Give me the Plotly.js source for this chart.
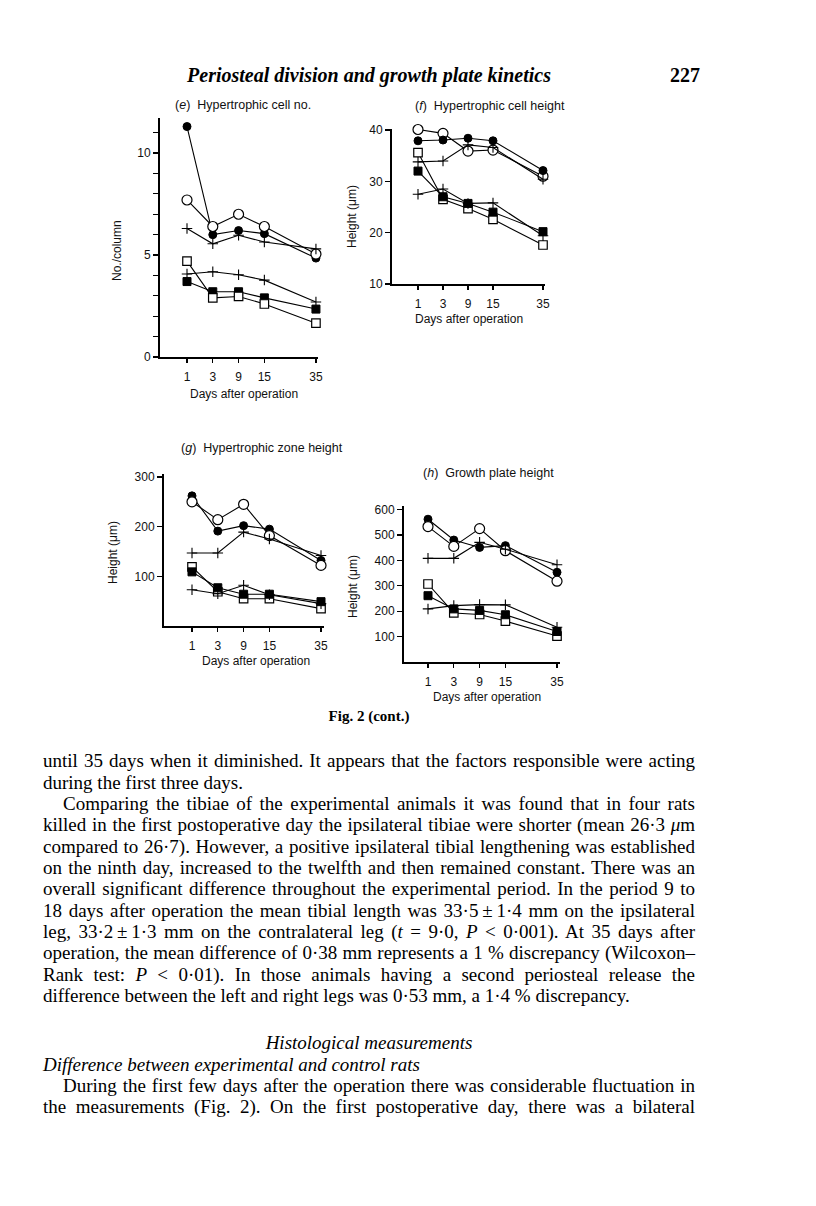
<!DOCTYPE html>
<html>
<head>
<meta charset="utf-8">
<script src="https://cdn.plot.ly/plotly-3.0.1.min.js"></script>
<style>
html,body{margin:0;padding:0;background:#fff;}
#page{position:relative;width:816px;height:1206px;overflow:hidden;background:#fff;}
#chart{position:absolute;left:0;top:0;width:816px;height:730px;}
.t{position:absolute;left:43px;width:652px;font-family:"Liberation Serif","Times New Roman",serif;font-size:19px;line-height:22px;color:#000;}
.j{text-align:justify;text-align-last:justify;}
.l{text-align:left;}
.c{text-align:center;}
.in{padding-left:20px;box-sizing:border-box;}
.hdr{position:absolute;font-family:"Liberation Serif","Times New Roman",serif;color:#000;font-weight:bold;}
</style>
</head>
<body>
<div id="page">
  <div id="chart"></div>
  <div class="hdr" style="left:0;width:738px;top:64px;font-size:20px;font-style:italic;text-align:center;">Periosteal division and growth plate kinetics</div>
  <div class="hdr" style="left:660px;width:40px;top:64px;font-size:20px;text-align:right;">227</div>
  <div class="hdr" style="left:43px;width:652px;top:708px;font-size:15px;text-align:center;">Fig. 2 (cont.)</div>
  <div id="body"></div>
</div>
<script>
// ---- data ----
const days = [1, 3, 9, 15, 35];
const dayLabels = ['1', '3', '9', '15', '35'];

// (e) Hypertrophic cell no. (No./column)
const eFilledCircle = [11.3, 6.0, 6.2, 6.05, 4.85];
const eOpenCircle   = [7.7, 6.4, 7.0, 6.4, 5.05];
const ePlusUpper    = [6.3, 5.55, 5.97, 5.64, 5.3];
const ePlusLower    = [4.07, 4.18, 4.03, 3.77, 2.7];
const eFilledSquare = [3.7, 3.2, 3.2, 2.9, 2.35];
const eOpenSquare   = [4.7, 2.9, 2.97, 2.6, 1.66];

// (f) Hypertrophic cell height (µm)
const fOpenCircle   = [40.1, 39.35, 35.9, 36.1, 31.0];
const fFilledCircle = [37.9, 38.05, 38.4, 37.9, 32.1];
const fPlusUpper    = [33.8, 33.96, 37.1, 36.6, 30.4];
const fOpenSquare   = [35.6, 26.5, 24.7, 22.6, 17.6];
const fFilledSquare = [32.0, 27.0, 25.7, 24.0, 20.2];
const fPlusLower    = [27.5, 28.5, 25.7, 25.8, 19.4];

// (g) Hypertrophic zone height (µm)
const gFilledCircle = [262, 191, 202, 195, 132];
const gOpenCircle   = [250, 214, 245, 182, 122];
const gPlusUpper    = [147, 147, 189, 175, 142];
const gOpenSquare   = [119, 69, 55, 55, 35];
const gFilledSquare = [109, 77, 64, 64, 49];
const gPlusLower    = [73, 65, 82, 63, 45];

// (h) Growth plate height (µm)
const hFilledCircle = [562, 480, 451, 458, 353];
const hOpenCircle   = [533, 455, 525, 438, 318];
const hPlusUpper    = [408, 408, 471, 444, 383];
const hOpenSquare   = [307, 193, 187, 161, 102];
const hFilledSquare = [261, 209, 203, 186, 120];
const hPlusLower    = [209, 222, 226, 225, 137];

const eYTicks = [0, 5, 10];
const fYTicks = [10, 20, 30, 40];
const gYTicks = [100, 200, 300];
const hYTicks = [100, 200, 300, 400, 500, 600];

const panelTitles = ['(<i>e</i>)  Hypertrophic cell no.', '(<i>f</i>)  Hypertrophic cell height',
                     '(<i>g</i>)  Hypertrophic zone height', '(<i>h</i>)  Growth plate height'];
const yTitles = ['No./column', 'Height (μm)', 'Height (μm)', 'Height (μm)'];
const xTitle = 'Days after operation';

// ---- body text ----
const bodyLines = [
  ['j', 'until 35 days when it diminished. It appears that the factors responsible were acting'],
  ['l', 'during the first three days.'],
  ['j in', 'Comparing the tibiae of the experimental animals it was found that in four rats'],
  ['j', 'killed in the first postoperative day the ipsilateral tibiae were shorter (mean 26·3 <i>μ</i>m'],
  ['j', 'compared to 26·7). However, a positive ipsilateral tibial lengthening was established'],
  ['j', 'on the ninth day, increased to the twelfth and then remained constant. There was an'],
  ['j', 'overall significant difference throughout the experimental period. In the period 9 to'],
  ['j', '18 days after operation the mean tibial length was 33·5\u2009±\u20091·4 mm on the ipsilateral'],
  ['j', 'leg, 33·2\u2009±\u20091·3 mm on the contralateral leg (<i>t</i> = 9·0, <i>P</i> &lt; 0·001). At 35 days after'],
  ['j', 'operation, the mean difference of 0·38 mm represents a 1 % discrepancy (Wilcoxon–'],
  ['j', 'Rank test: <i>P</i> &lt; 0·01). In those animals having a second periosteal release the'],
  ['l', 'difference between the left and right legs was 0·53 mm, a 1·4 % discrepancy.']
];
const sectionHeading = 'Histological measurements';
const subHeading = 'Difference between experimental and control rats';
const bodyLines2 = [
  ['j in', 'During the first few days after the operation there was considerable fluctuation in'],
  ['j', 'the measurements (Fig. 2). On the first postoperative day, there was a bilateral']
];

(function buildText(){
  const body = document.getElementById('body');
  const add = (cls, html, yc) => {
    const d = document.createElement('div');
    d.className = 't ' + cls;
    d.style.top = (yc - 13) + 'px';
    d.innerHTML = html;
    body.appendChild(d);
  };
  bodyLines.forEach((ln, i) => add(ln[0], ln[1], 763.3 + 21.35 * i));
  add('c', '<i>' + sectionHeading + '</i>', 1045);
  add('l', '<i>' + subHeading + '</i>', 1066.7);
  bodyLines2.forEach((ln, i) => add(ln[0], ln[1], 1088 + 21.35 * i));
})();

// ---- chart ----
const W = 816, H = 730;
const slotOf = d => (d === 35 ? 5 : days.indexOf(d));
const xSlots = days.map(slotOf);

const panels = [
  {box: {l: 160, r: 318, t: 118, b: 357}, xr: [-1.047, 5.08], yr: [0, 11.72], yt: eYTicks, minor: 1,
   series: [eFilledCircle, eOpenCircle, ePlusUpper, ePlusLower, eFilledSquare, eOpenSquare],
   kinds: ['fc', 'oc', 'p', 'p', 'fs', 'os'],
   title: {x: 173, y: 105}, ylab: {x: 117, y: 250}, xlab: {x: 244, y: 394}},
  {box: {l: 392, r: 545, t: 129, b: 284}, xr: [-1.04, 5.08], yr: [10, 40.2], yt: fYTicks, minor: 0,
   series: [fOpenCircle, fFilledCircle, fPlusUpper, fOpenSquare, fFilledSquare, fPlusLower],
   kinds: ['oc', 'fc', 'p', 'os', 'fs', 'p'],
   title: {x: 413, y: 106}, ylab: {x: 352, y: 217}, xlab: {x: 469, y: 319}},
  {box: {l: 164, r: 324, t: 474, b: 626}, xr: [-1.085, 5.116], yr: [0, 306], yt: gYTicks, minor: 0,
   series: [gFilledCircle, gOpenCircle, gPlusUpper, gOpenSquare, gFilledSquare, gPlusLower],
   kinds: ['fc', 'oc', 'p', 'os', 'fs', 'p'],
   title: {x: 179, y: 448}, ylab: {x: 113, y: 553}, xlab: {x: 256, y: 661}},
  {box: {l: 404, r: 560, t: 506, b: 662}, xr: [-0.93, 5.116], yr: [0, 614], yt: hYTicks, minor: 0,
   series: [hFilledCircle, hOpenCircle, hPlusUpper, hOpenSquare, hFilledSquare, hPlusLower],
   kinds: ['fc', 'oc', 'p', 'os', 'fs', 'p'],
   title: {x: 421, y: 473}, ylab: {x: 353, y: 587}, xlab: {x: 487, y: 697}}
];

const markerStyles = {
  fc: {symbol: 'circle', size: 8, color: '#000', line: {color: '#000', width: 1}},
  oc: {symbol: 'circle', size: 10, color: '#fff', line: {color: '#000', width: 1.2}},
  p:  {symbol: 'cross-thin', size: 7.5, color: '#000', line: {color: '#000', width: 1.1}},
  fs: {symbol: 'square', size: 8, color: '#000', line: {color: '#000', width: 1}},
  os: {symbol: 'square', size: 8.5, color: '#fff', line: {color: '#000', width: 1.2}}
};
const kindNames = {fc: 'Filled circle', oc: 'Open circle', p: 'Cross', fs: 'Filled square', os: 'Open square'};

const px = x => x / W;
const py = y => 1 - y / H;
const tickFont = {family: 'Liberation Sans, Arial, sans-serif', size: 12, color: '#111'};
const labFont = {family: 'Liberation Sans, Arial, sans-serif', size: 12, color: '#111'};

const traces = [];
const layout = {
  width: W, height: H,
  margin: {l: 0, r: 0, t: 0, b: 0},
  paper_bgcolor: 'rgba(0,0,0,0)', plot_bgcolor: 'rgba(0,0,0,0)',
  showlegend: false,
  annotations: []
};

panels.forEach((p, i) => {
  const n = i === 0 ? '' : String(i + 1);
  const xa = 'x' + n, ya = 'y' + n;
  p.series.forEach((vals, k) => {
    const kind = p.kinds[k];
    traces.push({
      type: 'scatter', mode: 'lines+markers',
      name: kindNames[kind],
      x: xSlots, y: vals,
      xaxis: xa, yaxis: ya,
      line: {color: '#000', width: 1.1},
      marker: markerStyles[kind],
      cliponaxis: false,
      hoverinfo: 'x+y'
    });
  });
  layout['xaxis' + n] = {
    domain: [px(p.box.l), px(p.box.r)], anchor: ya, range: p.xr,
    showline: true, linecolor: '#000', linewidth: 2,
    showgrid: false, zeroline: false,
    tickmode: 'array', tickvals: xSlots, ticktext: dayLabels,
    ticks: 'outside', ticklen: 4, tickwidth: 1.2, tickcolor: '#000',
    ticklabelstandoff: 4,
    tickfont: tickFont, fixedrange: true
  };
  const ya_ = {
    domain: [py(p.box.b), py(p.box.t)], anchor: xa, range: p.yr,
    showline: true, linecolor: '#000', linewidth: 2,
    showgrid: false, zeroline: false,
    tickmode: 'array', tickvals: p.yt,
    ticks: 'outside', ticklen: 5, tickwidth: 1.2, tickcolor: '#000',
    tickfont: tickFont, fixedrange: true
  };
  if (p.minor) ya_.minor = {tickmode: 'linear', tick0: 0, dtick: p.minor, ticks: 'outside', ticklen: 5, tickwidth: 1.2, tickcolor: '#000', showgrid: false};
  layout['yaxis' + n] = ya_;

  layout.annotations.push({
    xref: 'paper', yref: 'paper', x: px(p.title.x), y: py(p.title.y),
    xanchor: 'left', yanchor: 'middle', showarrow: false,
    text: panelTitles[i], font: {family: 'Liberation Sans, Arial, sans-serif', size: 12.5, color: '#111'}
  });
  layout.annotations.push({
    xref: 'paper', yref: 'paper', x: px(p.ylab.x), y: py(p.ylab.y),
    xanchor: 'center', yanchor: 'middle', showarrow: false, textangle: -90,
    text: yTitles[i], font: labFont
  });
  layout.annotations.push({
    xref: 'paper', yref: 'paper', x: px(p.xlab.x), y: py(p.xlab.y),
    xanchor: 'center', yanchor: 'middle', showarrow: false,
    text: xTitle, font: labFont
  });
});

Plotly.newPlot('chart', traces, layout, {staticPlot: true, displayModeBar: false});
</script>
</body>
</html>
